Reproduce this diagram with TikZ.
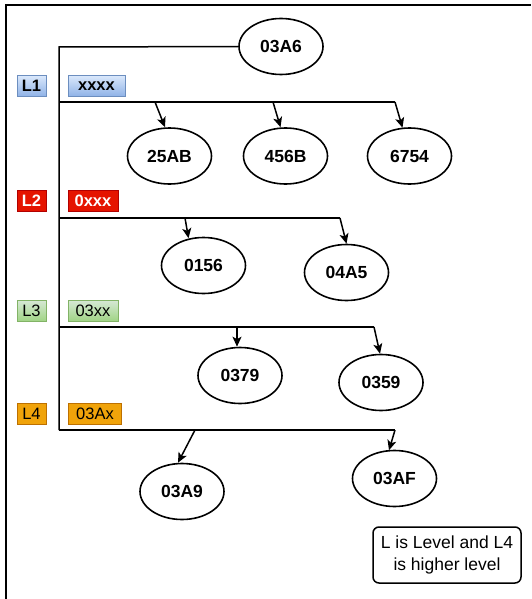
\documentclass[tikz,border=0pt]{standalone}
\usepackage{fontspec}
\setmainfont{Liberation Sans}
\usetikzlibrary{shapes.geometric,arrows.meta}
\definecolor{bluefillA}{HTML}{DAE8FC}
\definecolor{bluefillB}{HTML}{8FB2E6}
\definecolor{bluestroke}{HTML}{6C8EBF}
\definecolor{redfill}{HTML}{E51400}
\definecolor{redstroke}{HTML}{B20000}
\definecolor{greenfillA}{HTML}{D5E8D4}
\definecolor{greenfillB}{HTML}{9FD383}
\definecolor{greenstroke}{HTML}{82B366}
\definecolor{orangefill}{HTML}{F0A30A}
\definecolor{orangestroke}{HTML}{BD7000}
\begin{document}
\begin{tikzpicture}[x=1pt,y=-1pt,
  keynode/.style={ellipse,draw,line width=1.6pt,minimum width=84pt,minimum height=56pt,inner sep=0pt,font=\fontsize{17.5}{20}\selectfont\bfseries},
  bus/.style={line width=1.5pt},
  arr/.style={line width=1.5pt,-{Stealth[length=10pt,width=9pt,inset=2.5pt]}},
  lvl/.style={draw,line width=0.9pt,minimum height=21pt,inner sep=0pt,font=\fontsize{16.5}{18}\selectfont},
  bluebox/.style={lvl,top color=bluefillA,bottom color=bluefillB,draw=bluestroke,font=\fontsize{16.5}{18}\selectfont\bfseries},
  redbox/.style={lvl,fill=redfill,draw=redstroke,text=white,font=\fontsize{16.5}{18}\selectfont\bfseries},
  greenbox/.style={lvl,top color=greenfillA,bottom color=greenfillB,draw=greenstroke},
  orangebox/.style={lvl,fill=orangefill,draw=orangestroke},
  notebox/.style={draw,line width=1.5pt,rounded corners=6pt,minimum width=148pt,minimum height=56pt,inner sep=0pt,align=center,font=\fontsize{17.5}{21.7}\selectfont}
]
\useasboundingbox (0,0) rectangle (531,599);
% frame
\draw[line width=2pt] (6,599) -- (6,5) -- (531,5);

% level labels
\node[bluebox,minimum width=29pt] (L1) at (31.5,86) {L1};
\node[bluebox,minimum width=57pt] (v1) at (96.5,86) {xxxx};
\node[redbox,minimum width=29pt] (L2) at (31.5,201) {L2};
\node[redbox,minimum width=50pt] (v2) at (93,201) {0xxx};
\node[greenbox,minimum width=29pt] (L3) at (31.5,311) {L3};
\node[greenbox,minimum width=50pt] (v3) at (93,311) {03xx};
\node[orangebox,minimum width=29pt] (L4) at (31.5,413.5) {L4};
\node[orangebox,minimum width=53pt] (v4) at (95,413.5) {03Ax};

% key nodes
\node[keynode] (n03A6) at (281,46.5) {03A6};
\node[keynode] (n25AB) at (169.5,156) {25AB};
\node[keynode] (n456B) at (285.5,156) {456B};
\node[keynode] (n6754) at (409.5,156) {6754};
\node[keynode] (n0156) at (203.5,265.5) {0156};
\node[keynode] (n04A5) at (346.5,272.5) {04A5};
\node[keynode] (n0379) at (240,375.5) {0379};
\node[keynode] (n0359) at (381,382.5) {0359};
\node[keynode] (n03A9) at (182,491.5) {03A9};
\node[keynode] (n03AF) at (394.5,478.5) {03AF};

% note
\node[notebox] (note) at (447,555) {L is Level and L4\\is higher level};

% bus coordinates
\coordinate (c0) at (59,47);
\coordinate (b1s) at (59,102);
\coordinate (b1a) at (155,102);
\coordinate (b1b) at (273,102);
\coordinate (b1e) at (395,102);
\coordinate (b2s) at (59,218);
\coordinate (b2a) at (185,218);
\coordinate (b2e) at (340,218);
\coordinate (b3s) at (59,327);
\coordinate (b3a) at (237,327);
\coordinate (b3e) at (374,327);
\coordinate (b4s) at (59,430);
\coordinate (b4a) at (195,430);
\coordinate (b4e) at (395,430);

% trunk
\draw[bus] (n03A6.west) -- (c0) -- (b4s);
% buses
\draw[bus] (b1s) -- (b1e);
\draw[bus] (b2s) -- (b2e);
\draw[bus] (b3s) -- (b3e);
\draw[bus] (b4s) -- (b4e);

% arrows
\draw[arr] (b1a) -- ([xshift=-4.5pt]n25AB.north);
\draw[arr] (b1b) -- ([xshift=-5pt]n456B.north);
\draw[arr] (b1e) -- ([xshift=-7pt,yshift=-0.5pt]n6754.north);
\draw[arr] (b2a) -- ([xshift=-15pt,yshift=-1.5pt]n0156.north);
\draw[arr] (b2e) -- (n04A5.north);
\draw[arr] (b3a) -- ([xshift=-3pt]n0379.north);
\draw[arr] (b3e) -- ([xshift=-1pt]n0359.north);
\draw[arr] (b4a) -- ([xshift=-4pt]n03A9.north);
\draw[arr] (b4e) -- ([xshift=-5.5pt,yshift=-0.5pt]n03AF.north);
\end{tikzpicture}
\end{document}
